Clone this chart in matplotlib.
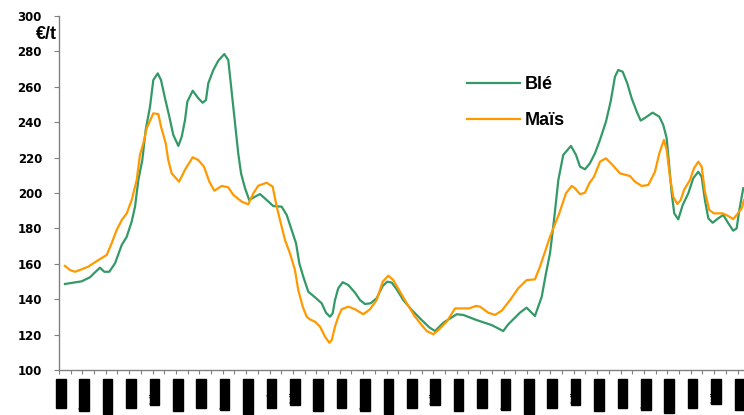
import matplotlib
matplotlib.use("Agg")
import matplotlib.pyplot as plt
import matplotlib.transforms as mtransforms

plt.rcParams['font.family'] = ['Liberation Sans', 'DejaVu Sans']

# prix en €/t, abscisse en mois depuis le début de la période
mois_ble = [0.51, 1.94, 2.65, 3.08, 3.50, 3.87, 4.30, 4.79, 5.36, 5.79, 6.21, 6.50, 6.78, 7.12,
            7.41, 7.78, 8.06, 8.44, 8.72, 9.06, 9.40, 9.77, 10.20, 10.49, 10.77, 10.97, 11.43,
            11.91, 12.28, 12.56, 12.76, 13.19, 13.62, 14.13, 14.47, 14.68, 14.90, 15.13, 15.32,
            15.56, 15.90, 16.26, 16.75, 17.18, 17.69, 18.32, 19.03, 19.46, 19.89, 20.26, 20.54,
            20.88, 21.31, 21.88, 22.45, 22.82, 23.16, 23.39, 23.59, 23.87, 24.25, 24.73, 25.30,
            25.73, 26.15, 26.64, 27.15, 27.67, 28.06, 28.44, 28.86, 29.43, 30.15, 30.85, 31.65,
            32.14, 32.85, 33.99, 34.56, 35.70, 36.98, 37.97, 38.40, 39.40, 39.97, 40.68, 41.26,
            41.62, 41.97, 42.31, 42.68, 43.10, 43.76, 44.19, 44.53, 44.96, 45.38, 45.81, 46.24,
            46.75, 47.15, 47.52, 47.80, 48.18, 48.57, 48.95, 49.38, 49.72, 50.17, 50.74, 51.31,
            51.65, 51.94, 52.16, 52.37, 52.59, 52.93, 53.31, 53.79, 54.21, 54.64, 54.93, 55.21,
            55.50, 55.87, 56.35, 56.78, 57.21, 57.63, 57.92, 58.15, 58.49]
prix_ble = [148.6, 150.1, 152.4, 155.2, 157.8, 155.5, 155.5, 160.3, 170.6, 175.3, 183.8, 192.3,
            207.3, 218.6, 235.6, 248.8, 263.8, 267.6, 263.8, 253.5, 244.0, 232.8, 226.6, 231.8,
            241.2, 251.6, 257.8, 253.5, 251.0, 252.5, 262.0, 269.5, 274.8, 278.5, 275.1, 262.0,
            248.8, 233.7, 222.4, 211.1, 202.7, 196.0, 197.9, 199.4, 196.4, 192.6, 192.3, 187.6,
            179.1, 171.6, 160.3, 152.7, 144.2, 141.1, 137.7, 132.4, 130.1, 132.0, 139.5, 146.2,
            149.6, 148.0, 143.7, 139.5, 137.3, 137.7, 140.5, 147.5, 149.9, 149.4, 145.6, 139.5,
            133.9, 129.2, 124.1, 122.0, 126.7, 131.5, 131.1, 128.2, 125.4, 122.0, 125.8, 132.4,
            135.2, 130.5, 141.4, 154.5, 166.0, 184.7, 207.3, 221.5, 226.6, 221.5, 214.9, 213.4,
            216.8, 222.4, 230.0, 240.3, 251.6, 265.7, 269.5, 268.5, 262.0, 253.5, 246.0, 240.9,
            242.8, 245.4, 243.1, 238.4, 231.0, 214.9, 199.8, 188.5, 185.1, 193.2, 199.8, 208.3,
            212.0, 209.2, 196.0, 185.7, 183.2, 185.7, 187.6, 182.9, 178.7, 180.0, 190.4, 202.7]

mois_mais = [0.51, 0.94, 1.37, 1.94, 2.50, 3.36, 4.08, 4.50, 4.93, 5.36, 5.79, 6.21, 6.64, 6.92,
             7.21, 7.50, 8.06, 8.49, 8.72, 9.12, 9.34, 9.63, 10.26, 10.80, 11.43, 11.91, 12.39,
             12.85, 13.27, 13.91, 14.47, 14.90, 15.62, 16.18, 16.61, 17.03, 17.75, 18.26, 18.61,
             19.03, 19.32, 19.74, 20.17, 20.45, 20.83, 21.17, 21.45, 21.88, 22.31, 22.74, 23.10,
             23.31, 23.59, 23.87, 24.16, 24.73, 25.30, 26.01, 26.58, 27.15, 27.67, 28.15, 28.57,
             29.15, 29.72, 30.43, 31.00, 31.43, 32.00, 32.42, 33.14, 33.85, 35.07, 35.64, 35.98,
             36.69, 37.26, 37.84, 38.55, 39.26, 39.97, 40.68, 41.11, 41.54, 41.97, 42.25, 42.76,
             43.33, 43.82, 44.10, 44.53, 44.96, 45.33, 45.73, 46.24, 46.75, 47.32, 47.95, 48.80,
             49.23, 49.80, 50.37, 50.94, 51.31, 51.71, 51.94, 52.22, 52.50, 52.85, 53.14, 53.42,
             53.93, 54.27, 54.64, 54.93, 55.21, 55.58, 55.98, 56.73, 57.21, 57.63, 57.98, 58.35,
             58.55]
prix_mais = [158.8, 156.5, 155.5, 156.9, 158.4, 162.1, 165.0, 171.6, 179.1, 184.7, 188.5, 196.0,
             207.3, 221.5, 228.1, 236.6, 245.0, 244.6, 237.5, 228.1, 218.6, 211.1, 206.4, 213.5,
             220.2, 218.6, 214.9, 206.4, 201.3, 204.0, 203.2, 198.9, 195.1, 193.6, 199.8, 204.1,
             205.8, 203.6, 192.3, 181.0, 173.4, 165.9, 156.5, 145.2, 135.8, 130.1, 128.6, 127.3,
             124.5, 118.8, 115.4, 116.9, 124.5, 130.1, 134.3, 135.8, 134.3, 131.5, 134.3, 139.5,
             149.9, 153.3, 150.8, 144.2, 137.7, 130.1, 125.4, 122.0, 120.2, 122.6, 127.3, 134.8,
             134.8, 136.2, 135.8, 132.4, 131.1, 133.5, 139.5, 146.2, 150.8, 151.2, 158.4, 166.8,
             175.3, 180.0, 188.5, 199.8, 204.0, 202.7, 199.3, 200.2, 205.5, 209.2, 217.7, 219.6,
             215.8, 211.1, 209.6, 206.4, 204.0, 204.5, 212.0, 222.4, 230.0, 224.3, 209.2, 197.9,
             193.8, 196.0, 201.7, 207.3, 213.9, 217.7, 214.9, 200.8, 190.4, 188.5, 188.5, 187.0,
             185.3, 188.1, 191.3, 196.0]

etiquettes = ['nov-06', 'janv-07', 'mars-07', 'mai-07', 'juil-07', 'sept-07',
              'nov-07', 'janv-08', 'mars-08', 'mai-08', 'juil-08', 'sept-08',
              'nov-08', 'janv-09', 'mars-09', 'mai-09', 'juil-09', 'sept-09',
              'nov-09', 'janv-10', 'mars-10', 'mai-10', 'juil-10', 'sept-10',
              'nov-10', 'janv-11', 'mars-11', 'mai-11', 'juil-11', 'sept-11']

fig = plt.figure(figsize=(7.44, 4.15), dpi=100)
ax = fig.add_axes([59 / 744, 45 / 415, 685 / 744, 354 / 415])

ax.plot(mois_ble, prix_ble, color='#339966', lw=1.6, label='Blé')
ax.plot(mois_mais, prix_mais, color='#FF9900', lw=1.6, label='Maïs')

ax.set_xlim(0, 58.55)
ax.set_ylim(100, 300)
for s in ['top', 'right']:
    ax.spines[s].set_visible(False)
for s in ['left', 'bottom']:
    ax.spines[s].set_color('#808080')
    ax.spines[s].set_linewidth(1)

ax.set_yticks(range(100, 301, 20))
ax.tick_params(axis='y', length=3.6, color='#808080', pad=8.6)
for t in ax.get_yticklabels():
    t.set_fontfamily('DejaVu Sans')
    t.set_fontweight('bold')
    t.set_fontsize(8.5)

ax.set_xticks(range(0, 59))
ax.set_xticklabels([])
ax.tick_params(axis='x', length=3, color='#808080')

# étiquettes de dates (rendues en blocs noirs comme sur l'original)
trans = mtransforms.blended_transform_factory(ax.transData, ax.transAxes)
for i, lab in enumerate(etiquettes):
    ax.text(2 * i + 0.15, -0.026, lab, rotation=90, ha='center', va='top',
            transform=trans, fontsize=6.8, color='black', clip_on=False,
            bbox=dict(facecolor='black', edgecolor='black', pad=0.2))

trans_y = mtransforms.blended_transform_factory(ax.transAxes, ax.transData)
ax.text(-0.0336, 289.8, '€/t', transform=trans_y, fontsize=13, fontweight='bold',
        ha='left', va='center')

ax.legend(loc='upper left', bbox_to_anchor=(0.596, 0.831), frameon=False,
          prop=dict(family='Liberation Sans', weight='bold', size=13),
          handlelength=2.94, handletextpad=0.22, labelspacing=1.07,
          borderpad=0, borderaxespad=0)

fig.savefig('out.png', dpi=100)
